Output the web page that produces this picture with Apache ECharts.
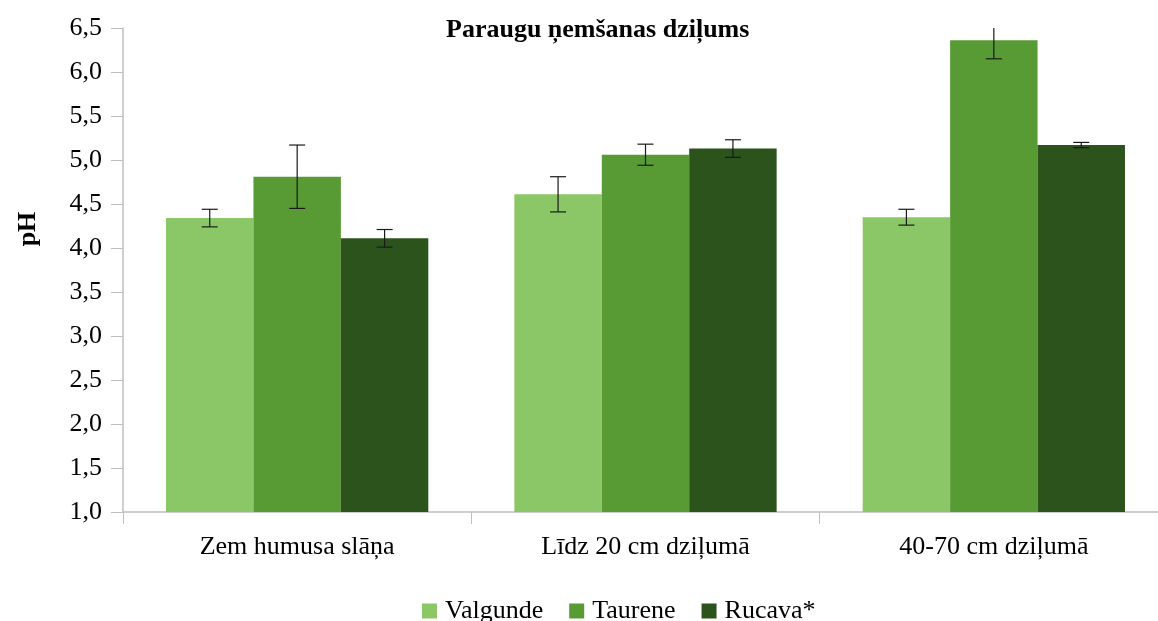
<!DOCTYPE html>
<html>
<head>
<meta charset="utf-8">
<script src="https://cdn.jsdelivr.net/npm/echarts@6/dist/echarts.min.js"></script>
<style>
  html, body { margin: 0; padding: 0; background: #fff; }
  #chart { width: 1158px; height: 621px; }
</style>
</head>
<body>
<div id="chart"></div>
<script>
const categories = ['Zem humusa slāņa', 'Līdz 20 cm dziļumā', '40-70 cm dziļumā']
const seriesNames = ['Valgunde', 'Taurene', 'Rucava*']
const valgunde = [4.34, 4.61, 4.35]
const taurene = [4.81, 5.06, 6.36]
const rucava = [4.11, 5.13, 5.17]
// error bar half-widths
const valgundeErr = [0.10, 0.20, 0.09]
const taureneErr = [0.36, 0.12, 0.21]
const rucavaErr = [0.10, 0.10, 0.03]

const colors = ['#8bc766', '#589a34', '#2c531b']
const values = [valgunde, taurene, rucava]
const errors = [valgundeErr, taureneErr, rucavaErr]
const catGap = 0.247
const font = '"Liberation Serif", "Times New Roman", serif'

const chart = echarts.init(document.getElementById('chart'))

const barSeries = seriesNames.map((name, i) => ({
  name: name,
  type: 'bar',
  data: values[i],
  barGap: 0,
  barCategoryGap: (catGap * 100) + '%',
  itemStyle: { color: colors[i] },
  z: 2
}))

const errSeries = seriesNames.map((name, i) => ({
  type: 'custom',
  name: name,
  z: 5,
  clip: true,
  silent: true,
  data: values[i].map((v, j) => [j, v - errors[i][j], v + errors[i][j]]),
  renderItem: (params, api) => {
    const band = api.size([1, 0])[0]
    const bw = band * (1 - catGap) / 3
    const lo = api.coord([api.value(0), api.value(1)])
    const hi = api.coord([api.value(0), api.value(2)])
    const x = lo[0] + (i - 1) * bw
    const cap = 8
    const style = { stroke: '#1a1a1a', lineWidth: 1.2 }
    return {
      type: 'group',
      children: [
        { type: 'line', shape: { x1: x, y1: lo[1], x2: x, y2: hi[1] }, style },
        { type: 'line', shape: { x1: x - cap, y1: lo[1], x2: x + cap, y2: lo[1] }, style },
        { type: 'line', shape: { x1: x - cap, y1: hi[1], x2: x + cap, y2: hi[1] }, style }
      ]
    }
  }
}))

const option = {
  animation: false,
  title: {
    text: 'Paraugu ņemšanas dziļums',
    left: 441,
    top: 12,
    textStyle: { fontFamily: font, fontSize: 26, fontWeight: 'bold', color: '#000' }
  },
  graphic: [{
    type: 'text',
    x: 28,
    y: 229,
    rotation: Math.PI / 2,
    style: {
      text: 'pH',
      fontFamily: font, fontSize: 26, fontWeight: 'bold', fill: '#000',
      textAlign: 'center', textVerticalAlign: 'middle'
    }
  }],
  legend: {
    data: seriesNames,
    top: 593,
    left: 417,
    icon: 'rect',
    itemWidth: 15,
    itemHeight: 15,
    itemGap: 26,
    textStyle: { fontFamily: font, fontSize: 26, color: '#000', padding: [0, 0, 0, 3] }
  },
  // plot runs past the right edge, last category is cut off in the original
  grid: { left: 123, width: 1045, top: 28, height: 484, containLabel: false, outerBoundsMode: 'none' },
  xAxis: {
    type: 'category',
    data: categories,
    axisLine: { lineStyle: { color: '#bfbfbf', width: 1.5 } },
    axisTick: { show: true, length: 12, lineStyle: { color: '#bfbfbf' } },
    axisLabel: { fontFamily: font, fontSize: 26, color: '#000', margin: 22 }
  },
  yAxis: {
    type: 'value',
    min: 1,
    max: 6.5,
    interval: 0.5,
    axisLine: { show: true, lineStyle: { color: '#bfbfbf', width: 1.5 } },
    axisTick: { show: true, length: 12, lineStyle: { color: '#bfbfbf' } },
    splitLine: { show: false },
    axisLabel: {
      fontFamily: font, fontSize: 26, color: '#000', margin: 21,
      formatter: v => v.toFixed(1).replace('.', ',')
    }
  },
  series: barSeries.concat(errSeries)
}

chart.setOption(option)
</script>
</body>
</html>
